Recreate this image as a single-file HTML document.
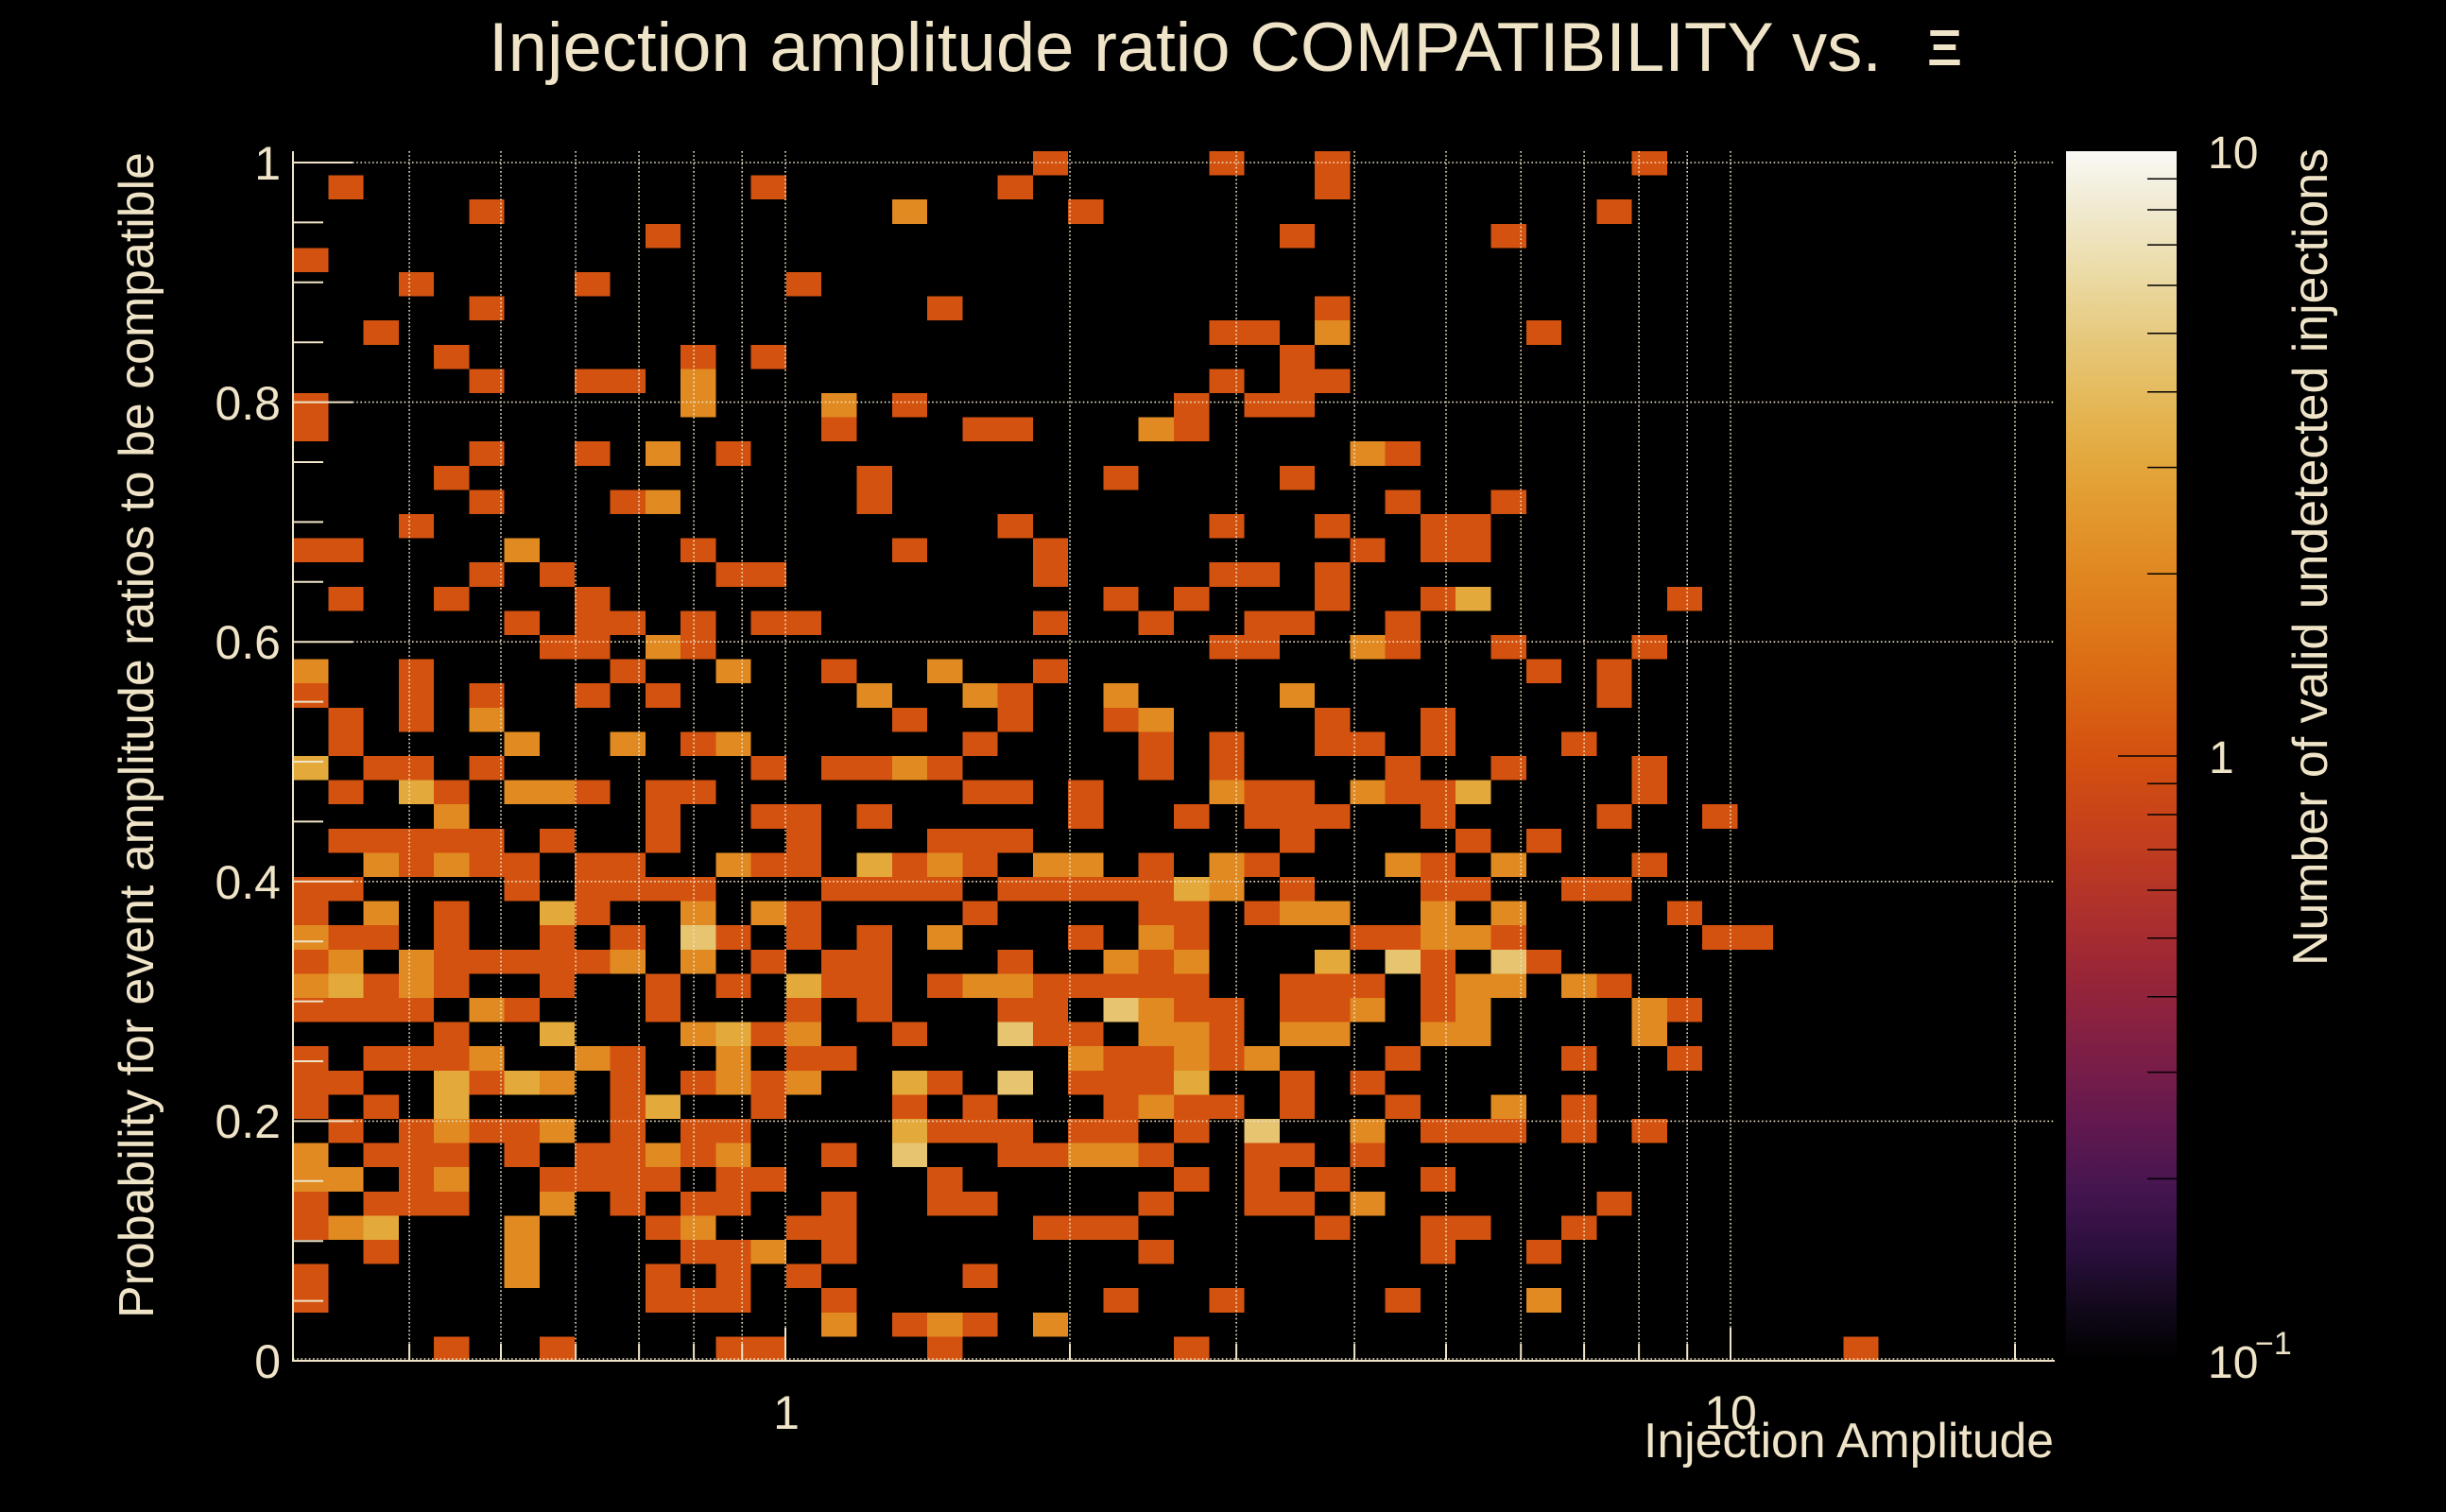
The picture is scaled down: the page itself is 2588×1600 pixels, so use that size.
<!DOCTYPE html>
<html><head><meta charset="utf-8"><style>
html,body{margin:0;padding:0;background:#000;}
svg{display:block;}
text{font-family:"Liberation Sans",Arial,sans-serif;fill:#efe4c7;}
</style></head><body>
<svg width="2588" height="1600" viewBox="0 0 2588 1600" xmlns="http://www.w3.org/2000/svg">
<defs>
<linearGradient id="cb" x1="0" y1="0" x2="0" y2="1">
<stop offset="0" stop-color="#f9f8f4"/>
<stop offset="0.04" stop-color="#f2ecd6"/>
<stop offset="0.10" stop-color="#ebdba6"/>
<stop offset="0.16" stop-color="#e6c778"/>
<stop offset="0.22" stop-color="#e4b450"/>
<stop offset="0.28" stop-color="#e39f33"/>
<stop offset="0.35" stop-color="#e08720"/>
<stop offset="0.42" stop-color="#dc6f15"/>
<stop offset="0.50" stop-color="#d4510f"/>
<stop offset="0.56" stop-color="#c6411b"/>
<stop offset="0.62" stop-color="#b1322a"/>
<stop offset="0.68" stop-color="#992637"/>
<stop offset="0.74" stop-color="#801f45"/>
<stop offset="0.80" stop-color="#64194f"/>
<stop offset="0.86" stop-color="#441550"/>
<stop offset="0.91" stop-color="#2a0f3c"/>
<stop offset="0.96" stop-color="#100818"/>
<stop offset="1" stop-color="#000000"/>
</linearGradient>
</defs>
<rect x="0" y="0" width="2588" height="1600" fill="#000"/>

<!-- heatmap cells -->
<g transform="translate(310,160) scale(37.28,25.6)" shape-rendering="crispEdges">
<path fill="#d4520f" d="
M21 0h1v1h-1zM26 0h1v1h-1zM29 0h1v1h-1zM38 0h1v1h-1z
M1 1h1v1h-1zM13 1h1v1h-1zM20 1h1v1h-1zM29 1h1v1h-1z
M5 2h1v1h-1zM22 2h1v1h-1zM37 2h1v1h-1z
M10 3h1v1h-1zM28 3h1v1h-1zM34 3h1v1h-1z
M0 4h1v1h-1z
M3 5h1v1h-1zM8 5h1v1h-1zM14 5h1v1h-1z
M5 6h1v1h-1zM18 6h1v1h-1zM29 6h1v1h-1z
M2 7h1v1h-1zM26 7h2v1h-2zM35 7h1v1h-1z
M4 8h1v1h-1zM11 8h1v1h-1zM13 8h1v1h-1zM28 8h1v1h-1z
M5 9h1v1h-1zM8 9h2v1h-2zM26 9h1v1h-1zM28 9h2v1h-2z
M0 10h1v1h-1zM17 10h1v1h-1zM25 10h1v1h-1zM27 10h2v1h-2z
M0 11h1v1h-1zM15 11h1v1h-1zM19 11h2v1h-2zM25 11h1v1h-1z
M5 12h1v1h-1zM8 12h1v1h-1zM12 12h1v1h-1zM31 12h1v1h-1z
M4 13h1v1h-1zM16 13h1v1h-1zM23 13h1v1h-1zM28 13h1v1h-1z
M5 14h1v1h-1zM9 14h1v1h-1zM16 14h1v1h-1zM31 14h1v1h-1zM34 14h1v1h-1z
M3 15h1v1h-1zM20 15h1v1h-1zM26 15h1v1h-1zM29 15h1v1h-1zM32 15h2v1h-2z
M0 16h2v1h-2zM11 16h1v1h-1zM17 16h1v1h-1zM21 16h1v1h-1zM30 16h1v1h-1zM32 16h2v1h-2z
M5 17h1v1h-1zM7 17h1v1h-1zM12 17h2v1h-2zM21 17h1v1h-1zM26 17h2v1h-2zM29 17h1v1h-1z
M1 18h1v1h-1zM4 18h1v1h-1zM8 18h1v1h-1zM23 18h1v1h-1zM25 18h1v1h-1zM29 18h1v1h-1zM32 18h1v1h-1zM39 18h1v1h-1z
M6 19h1v1h-1zM8 19h2v1h-2zM11 19h1v1h-1zM13 19h2v1h-2zM21 19h1v1h-1zM24 19h1v1h-1zM27 19h2v1h-2zM31 19h1v1h-1z
M7 20h2v1h-2zM11 20h1v1h-1zM26 20h2v1h-2zM31 20h1v1h-1zM34 20h1v1h-1zM38 20h1v1h-1z
M3 21h1v1h-1zM9 21h1v1h-1zM15 21h1v1h-1zM21 21h1v1h-1zM35 21h1v1h-1zM37 21h1v1h-1z
M0 22h1v1h-1zM3 22h1v1h-1zM5 22h1v1h-1zM8 22h1v1h-1zM10 22h1v1h-1zM20 22h1v1h-1zM37 22h1v1h-1z
M1 23h1v1h-1zM3 23h1v1h-1zM17 23h1v1h-1zM20 23h1v1h-1zM23 23h1v1h-1zM29 23h1v1h-1zM32 23h1v1h-1z
M1 24h1v1h-1zM11 24h1v1h-1zM19 24h1v1h-1zM24 24h1v1h-1zM26 24h1v1h-1zM29 24h2v1h-2zM32 24h1v1h-1zM36 24h1v1h-1z
M2 25h2v1h-2zM5 25h1v1h-1zM13 25h1v1h-1zM15 25h2v1h-2zM18 25h1v1h-1zM24 25h1v1h-1zM26 25h1v1h-1zM31 25h1v1h-1zM34 25h1v1h-1zM38 25h1v1h-1z
M1 26h1v1h-1zM4 26h1v1h-1zM8 26h1v1h-1zM10 26h2v1h-2zM19 26h2v1h-2zM22 26h1v1h-1zM27 26h2v1h-2zM31 26h2v1h-2zM38 26h1v1h-1z
M10 27h1v1h-1zM13 27h2v1h-2zM16 27h1v1h-1zM22 27h1v1h-1zM25 27h1v1h-1zM27 27h3v1h-3zM32 27h1v1h-1zM37 27h1v1h-1zM40 27h1v1h-1z
M1 28h5v1h-5zM7 28h1v1h-1zM10 28h1v1h-1zM14 28h1v1h-1zM18 28h3v1h-3zM28 28h1v1h-1zM33 28h1v1h-1zM35 28h1v1h-1z
M3 29h1v1h-1zM5 29h2v1h-2zM8 29h2v1h-2zM13 29h2v1h-2zM17 29h1v1h-1zM19 29h1v1h-1zM24 29h1v1h-1zM27 29h1v1h-1zM32 29h1v1h-1zM38 29h1v1h-1z
M0 30h2v1h-2zM6 30h1v1h-1zM8 30h4v1h-4zM15 30h4v1h-4zM20 30h5v1h-5zM28 30h1v1h-1zM32 30h2v1h-2zM36 30h2v1h-2z
M0 31h1v1h-1zM4 31h1v1h-1zM8 31h1v1h-1zM14 31h1v1h-1zM19 31h1v1h-1zM24 31h2v1h-2zM27 31h1v1h-1zM39 31h1v1h-1z
M1 32h2v1h-2zM4 32h1v1h-1zM7 32h1v1h-1zM9 32h1v1h-1zM12 32h1v1h-1zM14 32h1v1h-1zM16 32h1v1h-1zM22 32h1v1h-1zM25 32h1v1h-1zM30 32h2v1h-2zM34 32h1v1h-1zM40 32h2v1h-2z
M0 33h1v1h-1zM4 33h5v1h-5zM13 33h1v1h-1zM15 33h2v1h-2zM20 33h1v1h-1zM24 33h1v1h-1zM32 33h1v1h-1zM35 33h1v1h-1z
M2 34h1v1h-1zM4 34h1v1h-1zM7 34h1v1h-1zM10 34h1v1h-1zM12 34h1v1h-1zM15 34h2v1h-2zM18 34h1v1h-1zM21 34h5v1h-5zM28 34h3v1h-3zM32 34h1v1h-1zM37 34h1v1h-1z
M0 35h4v1h-4zM6 35h1v1h-1zM10 35h1v1h-1zM14 35h1v1h-1zM16 35h1v1h-1zM20 35h2v1h-2zM25 35h2v1h-2zM28 35h2v1h-2zM32 35h1v1h-1zM39 35h1v1h-1z
M4 36h1v1h-1zM13 36h1v1h-1zM17 36h1v1h-1zM21 36h2v1h-2zM26 36h1v1h-1z
M0 37h1v1h-1zM2 37h3v1h-3zM9 37h1v1h-1zM14 37h2v1h-2zM23 37h2v1h-2zM26 37h1v1h-1zM31 37h1v1h-1zM36 37h1v1h-1zM39 37h1v1h-1z
M0 38h2v1h-2zM5 38h1v1h-1zM9 38h1v1h-1zM11 38h1v1h-1zM13 38h1v1h-1zM18 38h1v1h-1zM22 38h3v1h-3zM28 38h1v1h-1zM30 38h1v1h-1z
M0 39h1v1h-1zM2 39h1v1h-1zM9 39h1v1h-1zM13 39h1v1h-1zM17 39h1v1h-1zM19 39h1v1h-1zM23 39h1v1h-1zM25 39h2v1h-2zM28 39h1v1h-1zM31 39h1v1h-1zM36 39h1v1h-1z
M1 40h1v1h-1zM3 40h1v1h-1zM5 40h2v1h-2zM9 40h1v1h-1zM11 40h2v1h-2zM18 40h3v1h-3zM22 40h2v1h-2zM25 40h1v1h-1zM32 40h3v1h-3zM36 40h1v1h-1zM38 40h1v1h-1z
M2 41h3v1h-3zM6 41h1v1h-1zM8 41h2v1h-2zM11 41h1v1h-1zM15 41h1v1h-1zM20 41h2v1h-2zM24 41h1v1h-1zM27 41h2v1h-2zM30 41h1v1h-1z
M3 42h1v1h-1zM7 42h4v1h-4zM12 42h2v1h-2zM18 42h1v1h-1zM25 42h1v1h-1zM27 42h1v1h-1zM29 42h1v1h-1zM32 42h1v1h-1z
M0 43h1v1h-1zM2 43h3v1h-3zM9 43h1v1h-1zM11 43h2v1h-2zM15 43h1v1h-1zM18 43h2v1h-2zM24 43h1v1h-1zM27 43h2v1h-2zM37 43h1v1h-1z
M0 44h1v1h-1zM10 44h1v1h-1zM14 44h2v1h-2zM21 44h3v1h-3zM29 44h1v1h-1zM32 44h2v1h-2zM36 44h1v1h-1z
M2 45h1v1h-1zM11 45h2v1h-2zM15 45h1v1h-1zM24 45h1v1h-1zM32 45h1v1h-1zM35 45h1v1h-1z
M0 46h1v1h-1zM10 46h1v1h-1zM12 46h1v1h-1zM14 46h1v1h-1zM19 46h1v1h-1z
M0 47h1v1h-1zM10 47h3v1h-3zM15 47h1v1h-1zM23 47h1v1h-1zM26 47h1v1h-1zM31 47h1v1h-1z
M17 48h1v1h-1zM19 48h1v1h-1z
M4 49h1v1h-1zM7 49h1v1h-1zM12 49h2v1h-2zM18 49h1v1h-1zM25 49h1v1h-1zM44 49h1v1h-1z
"/>
<path fill="#e08a21" d="
M17 2h1v1h-1z
M29 7h1v1h-1z
M11 9h1v1h-1z
M11 10h1v1h-1zM15 10h1v1h-1z
M24 11h1v1h-1z
M10 12h1v1h-1zM30 12h1v1h-1z
M10 14h1v1h-1z
M6 16h1v1h-1z
M10 20h1v1h-1zM30 20h1v1h-1z
M0 21h1v1h-1zM12 21h1v1h-1zM18 21h1v1h-1z
M16 22h1v1h-1zM19 22h1v1h-1zM23 22h1v1h-1zM28 22h1v1h-1z
M5 23h1v1h-1zM24 23h1v1h-1z
M6 24h1v1h-1zM9 24h1v1h-1zM12 24h1v1h-1z
M17 25h1v1h-1z
M6 26h2v1h-2zM26 26h1v1h-1zM30 26h1v1h-1z
M4 27h1v1h-1z
M2 29h1v1h-1zM4 29h1v1h-1zM12 29h1v1h-1zM18 29h1v1h-1zM21 29h2v1h-2zM26 29h1v1h-1zM31 29h1v1h-1zM34 29h1v1h-1z
M26 30h1v1h-1z
M2 31h1v1h-1zM11 31h1v1h-1zM13 31h1v1h-1zM28 31h2v1h-2zM32 31h1v1h-1zM34 31h1v1h-1z
M0 32h1v1h-1zM18 32h1v1h-1zM24 32h1v1h-1zM32 32h2v1h-2z
M1 33h1v1h-1zM3 33h1v1h-1zM9 33h1v1h-1zM11 33h1v1h-1zM23 33h1v1h-1zM25 33h1v1h-1z
M0 34h1v1h-1zM3 34h1v1h-1zM19 34h2v1h-2zM33 34h2v1h-2zM36 34h1v1h-1z
M5 35h1v1h-1zM24 35h1v1h-1zM30 35h1v1h-1zM33 35h1v1h-1zM38 35h1v1h-1z
M11 36h1v1h-1zM14 36h1v1h-1zM24 36h2v1h-2zM28 36h2v1h-2zM32 36h2v1h-2zM38 36h1v1h-1z
M5 37h1v1h-1zM8 37h1v1h-1zM12 37h1v1h-1zM22 37h1v1h-1zM25 37h1v1h-1zM27 37h1v1h-1z
M7 38h1v1h-1zM12 38h1v1h-1zM14 38h1v1h-1z
M24 39h1v1h-1zM34 39h1v1h-1z
M4 40h1v1h-1zM7 40h1v1h-1zM30 40h1v1h-1z
M0 41h1v1h-1zM10 41h1v1h-1zM12 41h1v1h-1zM22 41h2v1h-2z
M0 42h2v1h-2zM4 42h1v1h-1z
M7 43h1v1h-1zM30 43h1v1h-1z
M1 44h1v1h-1zM6 44h1v1h-1zM11 44h1v1h-1z
M6 45h1v1h-1zM13 45h1v1h-1z
M6 46h1v1h-1z
M35 47h1v1h-1z
M15 48h1v1h-1zM18 48h1v1h-1zM21 48h1v1h-1z
"/>
<path fill="#e4a93b" d="
M33 18h1v1h-1z
M0 25h1v1h-1z
M3 26h1v1h-1zM33 26h1v1h-1z
M16 29h1v1h-1z
M25 30h1v1h-1z
M7 31h1v1h-1z
M29 33h1v1h-1z
M1 34h1v1h-1zM14 34h1v1h-1z
M7 36h1v1h-1zM12 36h1v1h-1z
M4 38h1v1h-1zM6 38h1v1h-1zM17 38h1v1h-1zM25 38h1v1h-1z
M4 39h1v1h-1zM10 39h1v1h-1z
M17 40h1v1h-1z
M2 44h1v1h-1z
"/>
<path fill="#e6c470" d="
M11 32h1v1h-1z
M31 33h1v1h-1zM34 33h1v1h-1z
M23 35h1v1h-1z
M20 36h1v1h-1z
M20 38h1v1h-1z
M27 40h1v1h-1z
M17 41h1v1h-1z
"/>
</g>

<!-- grid lines -->
<g stroke="#efe4c7" stroke-width="1.6" stroke-dasharray="1.6 2.6" fill="none">
<line x1="433.1" y1="160" x2="433.1" y2="1440"/>
<line x1="530" y1="160" x2="530" y2="1440"/>
<line x1="609.1" y1="160" x2="609.1" y2="1440"/>
<line x1="676.1" y1="160" x2="676.1" y2="1440"/>
<line x1="734.1" y1="160" x2="734.1" y2="1440"/>
<line x1="785.2" y1="160" x2="785.2" y2="1440"/>
<line x1="831" y1="160" x2="831" y2="1440"/>
<line x1="1132" y1="160" x2="1132" y2="1440"/>
<line x1="1308.1" y1="160" x2="1308.1" y2="1440"/>
<line x1="1433.1" y1="160" x2="1433.1" y2="1440"/>
<line x1="1530" y1="160" x2="1530" y2="1440"/>
<line x1="1609.2" y1="160" x2="1609.2" y2="1440"/>
<line x1="1676.1" y1="160" x2="1676.1" y2="1440"/>
<line x1="1734.1" y1="160" x2="1734.1" y2="1440"/>
<line x1="1785.2" y1="160" x2="1785.2" y2="1440"/>
<line x1="1831" y1="160" x2="1831" y2="1440"/>
<line x1="2132" y1="160" x2="2132" y2="1440"/>
<line x1="310" y1="172" x2="2174" y2="172"/>
<line x1="310" y1="425.6" x2="2174" y2="425.6"/>
<line x1="310" y1="679.2" x2="2174" y2="679.2"/>
<line x1="310" y1="932.8" x2="2174" y2="932.8"/>
<line x1="310" y1="1186.4" x2="2174" y2="1186.4"/>
<line x1="310" y1="1438" x2="2174" y2="1438"/>
</g>

<!-- axes -->
<g stroke="#efe4c7" stroke-width="2" fill="none">
<line x1="310" y1="160" x2="310" y2="1441"/>
<line x1="309" y1="1440" x2="2174" y2="1440"/>
<line x1="310" y1="172" x2="373" y2="172"/>
<line x1="310" y1="425.6" x2="373" y2="425.6"/>
<line x1="310" y1="679.2" x2="373" y2="679.2"/>
<line x1="310" y1="932.8" x2="373" y2="932.8"/>
<line x1="310" y1="1186.4" x2="373" y2="1186.4"/>
<line x1="310" y1="235.4" x2="342" y2="235.4"/>
<line x1="310" y1="298.8" x2="342" y2="298.8"/>
<line x1="310" y1="362.2" x2="342" y2="362.2"/>
<line x1="310" y1="489" x2="342" y2="489"/>
<line x1="310" y1="552.4" x2="342" y2="552.4"/>
<line x1="310" y1="615.8" x2="342" y2="615.8"/>
<line x1="310" y1="742.6" x2="342" y2="742.6"/>
<line x1="310" y1="806" x2="342" y2="806"/>
<line x1="310" y1="869.4" x2="342" y2="869.4"/>
<line x1="310" y1="996.2" x2="342" y2="996.2"/>
<line x1="310" y1="1059.6" x2="342" y2="1059.6"/>
<line x1="310" y1="1123" x2="342" y2="1123"/>
<line x1="310" y1="1249.8" x2="342" y2="1249.8"/>
<line x1="310" y1="1313.2" x2="342" y2="1313.2"/>
<line x1="310" y1="1376.6" x2="342" y2="1376.6"/>
<line x1="831" y1="1440" x2="831" y2="1405"/>
<line x1="1831" y1="1440" x2="1831" y2="1405"/>
<line x1="433.1" y1="1440" x2="433.1" y2="1422"/>
<line x1="530" y1="1440" x2="530" y2="1422"/>
<line x1="609.1" y1="1440" x2="609.1" y2="1422"/>
<line x1="676.1" y1="1440" x2="676.1" y2="1422"/>
<line x1="734.1" y1="1440" x2="734.1" y2="1422"/>
<line x1="785.2" y1="1440" x2="785.2" y2="1422"/>
<line x1="1132" y1="1440" x2="1132" y2="1422"/>
<line x1="1308.1" y1="1440" x2="1308.1" y2="1422"/>
<line x1="1433.1" y1="1440" x2="1433.1" y2="1422"/>
<line x1="1530" y1="1440" x2="1530" y2="1422"/>
<line x1="1609.2" y1="1440" x2="1609.2" y2="1422"/>
<line x1="1676.1" y1="1440" x2="1676.1" y2="1422"/>
<line x1="1734.1" y1="1440" x2="1734.1" y2="1422"/>
<line x1="1785.2" y1="1440" x2="1785.2" y2="1422"/>
<line x1="2132" y1="1440" x2="2132" y2="1422"/>
</g>

<!-- colorbar -->
<rect x="2186" y="160" width="117" height="1280" fill="url(#cb)"/>
<g stroke="#000" stroke-width="1.5">
<line x1="2241" y1="800" x2="2303" y2="800"/>
<line x1="2272" y1="607.3" x2="2303" y2="607.3"/>
<line x1="2272" y1="494.6" x2="2303" y2="494.6"/>
<line x1="2272" y1="414.7" x2="2303" y2="414.7"/>
<line x1="2272" y1="352.7" x2="2303" y2="352.7"/>
<line x1="2272" y1="302" x2="2303" y2="302"/>
<line x1="2272" y1="259.1" x2="2303" y2="259.1"/>
<line x1="2272" y1="222" x2="2303" y2="222"/>
<line x1="2272" y1="189.3" x2="2303" y2="189.3"/>
<line x1="2272" y1="1247.4" x2="2303" y2="1247.4"/>
<line x1="2272" y1="1134.6" x2="2303" y2="1134.6"/>
<line x1="2272" y1="1054.7" x2="2303" y2="1054.7"/>
<line x1="2272" y1="992.7" x2="2303" y2="992.7"/>
<line x1="2272" y1="942" x2="2303" y2="942"/>
<line x1="2272" y1="899.1" x2="2303" y2="899.1"/>
<line x1="2272" y1="862" x2="2303" y2="862"/>
<line x1="2272" y1="829.3" x2="2303" y2="829.3"/>
</g>

<!-- texts -->
<text x="517" y="75" font-size="73" textLength="1474" lengthAdjust="spacingAndGlyphs">Injection amplitude ratio COMPATIBILITY vs.</text>
<text x="2039" y="69" font-size="54" font-weight="bold" textLength="37" lengthAdjust="spacingAndGlyphs">Ξ</text>

<g font-size="50" text-anchor="end">
<text x="297" y="190">1</text>
<text x="297" y="444">0.8</text>
<text x="297" y="697">0.6</text>
<text x="297" y="951">0.4</text>
<text x="297" y="1204">0.2</text>
<text x="297" y="1458">0</text>
</g>
<g font-size="50" text-anchor="middle">
<text x="832" y="1512">1</text>
<text x="1831" y="1512">10</text>
</g>
<text x="1739" y="1542" font-size="52" textLength="434" lengthAdjust="spacingAndGlyphs">Injection Amplitude</text>

<text transform="translate(162,1395) rotate(-90)" font-size="52" textLength="1234" lengthAdjust="spacingAndGlyphs">Probability for event amplitude ratios to be compatible</text>

<g font-size="48">
<text x="2336" y="178">10</text>
<text x="2337" y="818">1</text>
<text x="2336" y="1458">10</text>
</g>
<text x="2386" y="1433" font-size="34">−1</text>
<text transform="translate(2462,1022) rotate(-90)" font-size="52" textLength="865" lengthAdjust="spacingAndGlyphs">Number of valid undetected injections</text>
</svg>
</body></html>
